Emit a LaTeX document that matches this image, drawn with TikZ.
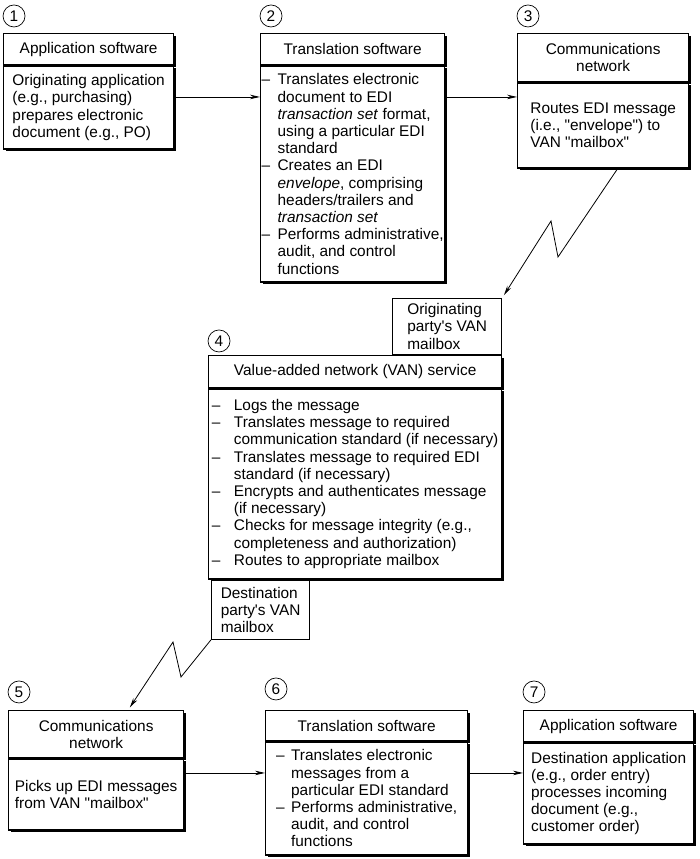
\documentclass[tikz,border=0pt]{standalone}
\usepackage{fontspec}
\setmainfont{Liberation Sans}
\usepackage{tikz}
\usetikzlibrary{positioning}
\usetikzlibrary{shadows}
\usetikzlibrary{arrows.meta}

\newcommand{\boxfont}{\fontsize{15.4pt}{17.2pt}\selectfont}
\newcommand{\dsh}[1]{\makebox[#1][l]{–}}
\newcommand{\hng}[1]{\hspace*{#1}}
\newcommand{\qt}[1]{\textquotedbl#1\textquotedbl}

\begin{document}
\begin{tikzpicture}[x=1pt, y=-1pt, >={Stealth[length=10pt,width=4.5pt]},
  every node/.style={font=\boxfont},
  conn/.style={line width=0.8pt},
  head box/.style 2 args={draw, fill=white, line width=1.3pt, minimum width=#1, minimum height=#2, inner sep=1pt, align=center,
    drop shadow={shadow xshift=2.5pt, shadow yshift=-2.5pt, fill=black, opacity=1}},
  body box/.style 2 args={head box={#1}{#2}, align=left},
  mail box/.style 2 args={draw, line width=1.2pt, minimum width=#1, minimum height=#2, inner sep=1pt, align=left},
  num node/.style={circle, draw, line width=0.7pt, minimum size=22pt, inner sep=0pt}]

  \useasboundingbox (0,0) rectangle (699,859);

  % top row
  \node[head box={170pt}{31pt}, anchor=north west] (b1h) at (3,33) {Application software};
  \node[body box={170pt}{83pt}] (b1b) [below=0pt of b1h] {Originating application\\(e.g., purchasing)\\prepares electronic\\document (e.g., PO)};

  \node[head box={184pt}{31pt}, anchor=north west] (b2h) at (260,33) {Translation software};
  \node[body box={184pt}{216pt}] (b2b) [below=0pt of b2h] {\dsh{16pt}Translates electronic\\\hng{16pt}document to EDI\\\hng{16pt}\textit{transaction set} format,\\\hng{16pt}using a particular EDI\\\hng{16pt}standard\\\dsh{16pt}Creates an EDI\\\hng{16pt}\textit{envelope}, comprising\\\hng{16pt}headers/trailers and\\\hng{16pt}\textit{transaction set}\\\dsh{16pt}Performs administrative,\\\hng{16pt}audit, and control\\\hng{16pt}functions};

  \node[head box={171pt}{48pt}, anchor=north west] (b3h) at (517,33) {Communications\\network};
  \node[body box={171pt}{85pt}] (b3b) [below=0pt of b3h] {Routes EDI message\\(i.e., \qt{envelope}) to\\VAN \qt{mailbox}};

  % VAN service
  \node[head box={293pt}{32pt}, anchor=north west] (b4h) at (208,355) {Value-added network (VAN) service};
  \node[body box={293pt}{190pt}] (b4b) [below=0pt of b4h] {\dsh{22pt}Logs the message\\\dsh{22pt}Translates message to required\\\hng{22pt}communication standard (if necessary)\\\dsh{22pt}Translates message to required EDI\\\hng{22pt}standard (if necessary)\\\dsh{22pt}Encrypts and authenticates message\\\hng{22pt}(if necessary)\\\dsh{22pt}Checks for message integrity (e.g.,\\\hng{22pt}completeness and authorization)\\\dsh{22pt}Routes to appropriate mailbox};

  \node[mail box={109pt}{56pt}] (mbo) [above left=0pt and 0pt of b4h.north east] {Originating\\party\textquotesingle s VAN\\mailbox};
  \node[mail box={98pt}{59pt}] (mbd) [below right=0pt and 3pt of b4b.south west] {Destination\\party\textquotesingle s VAN\\mailbox};

  % bottom row
  \node[head box={175pt}{47pt}, anchor=north west] (b5h) at (8,710) {Communications\\network};
  \node[body box={175pt}{71pt}] (b5b) [below=0pt of b5h] {Picks up EDI messages\\from VAN \qt{mailbox}};

  \node[head box={202pt}{30pt}, anchor=north west] (b6h) at (265,710) {Translation software};
  \node[body box={202pt}{113pt}] (b6b) [below=0pt of b6h] {\dsh{15pt}Translates electronic\\\hng{15pt}messages from a\\\hng{15pt}particular EDI standard\\\dsh{15pt}Performs administrative,\\\hng{15pt}audit, and control\\\hng{15pt}functions};

  \node[head box={170pt}{31pt}, anchor=north west] (b7h) at (523,710) {Application software};
  \node[body box={170pt}{101pt}] (b7b) [below=0pt of b7h] {Destination application\\(e.g., order entry)\\processes incoming\\document (e.g.,\\customer order)};

  % step numbers
  \node[num node, above right=9pt and 3pt of b1h.north west] (n1) {1};
  \node[num node, above right=9pt and 3pt of b2h.north west] (n2) {2};
  \node[num node, above right=9pt and 3pt of b3h.north west] (n3) {3};
  \node[num node, above right=6pt and 3pt of b4h.north west] (n4) {4};
  \node[num node, above right=10pt and 3pt of b5h.north west] (n5) {5};
  \node[num node, above right=13pt and 3pt of b6h.north west] (n6) {6};
  \node[num node, above right=10pt and 3pt of b7h.north west] (n7) {7};

  % connectors
  \coordinate (a12) at ([yshift=10.5pt]b1b.east);
  \coordinate (a56) at ([yshift=21.5pt]b5b.east);
  \path[conn]
    (a12) edge[->] (a12 -| b2b.west)
    (a12 -| b2b.east) edge[->] (a12 -| b3b.west)
    (a56) edge[->] (a56 -| b6b.west)
    (a56 -| b6b.east) edge[->] (a56 -| b7b.west);

  \draw[conn, ->, shorten >=3pt] ([xshift=14.5pt]b3b.south) -- (558,257) -- (551,221) -- (mbo.north east);
  \draw[conn, ->, shorten >=3pt] (mbd.south west) -- (181,677) -- (173,642) -- ([xshift=32pt]b5h.north);

\end{tikzpicture}
\end{document}
